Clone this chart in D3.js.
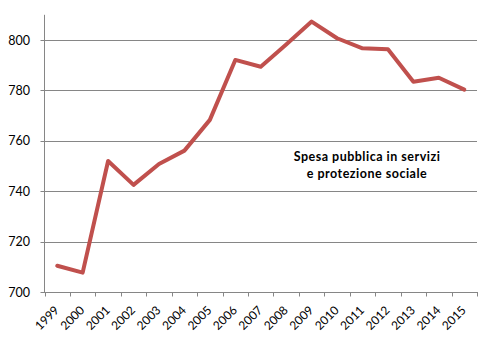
<!DOCTYPE html>
<html>
<head>
<meta charset="utf-8">
<script src="https://cdn.jsdelivr.net/npm/d3@7"></script>
<style>
  html, body { margin: 0; padding: 0; background: #fff; }
  svg { display: block; }
  text { font-family: Lato, "Open Sans", sans-serif; fill: #000; }
</style>
</head>
<body>
<svg id="chart" width="493" height="341"></svg>
<script>
const years = ["1999","2000","2001","2002","2003","2004","2005","2006","2007","2008","2009","2010","2011","2012","2013","2014","2015"];
const values = [710.4, 707.7, 752.0, 742.5, 750.8, 756.1, 768.3, 792.1, 789.4, 798.2, 807.3, 800.7, 796.7, 796.3, 783.4, 785.0, 780.3];
const yTicks = [700, 720, 740, 760, 780, 800];
const annotation = ["Spesa pubblica in servizi", "e protezione sociale"];

const svg = d3.select("#chart");
const plotLeft = 44.5, plotRight = 477, plotTop = 14.8, plotBottom = 292;

const x = d3.scaleBand().domain(years).range([plotLeft, plotRight]).padding(0);
const y = d3.scaleLinear().domain([700, 810]).range([plotBottom, plotTop]);

// gridlines
svg.append("g").selectAll("line").data(yTicks).join("line")
  .attr("x1", plotLeft - 4).attr("x2", plotRight)
  .attr("y1", d => Math.round(y(d)) + 0.5).attr("y2", d => Math.round(y(d)) + 0.5)
  .attr("stroke", "#868686").attr("stroke-width", 1);

// y axis line
svg.append("line")
  .attr("x1", plotLeft).attr("x2", plotLeft)
  .attr("y1", plotTop).attr("y2", plotBottom)
  .attr("stroke", "#868686").attr("stroke-width", 1);

// y labels
svg.append("g").selectAll("text").data(yTicks).join("text")
  .attr("x", 30).attr("y", d => y(d))
  .attr("text-anchor", "end").attr("dy", "0.36em")
  .style("font-size", "12.5px")
  .text(d => d);

// x tick marks at band boundaries
const bounds = years.map(d => x(d)).concat([plotRight]);
svg.append("g").selectAll("line").data(bounds).join("line")
  .attr("x1", d => Math.round(d) + 0.5).attr("x2", d => Math.round(d) + 0.5)
  .attr("y1", plotBottom).attr("y2", plotBottom + 4.5)
  .attr("stroke", "#868686").attr("stroke-width", 1);

// x labels
svg.append("g").selectAll("text").data(years).join("text")
  .attr("transform", d => `translate(${x(d) + x.bandwidth() / 2 + 2.5},${311}) rotate(-45)`)
  .attr("text-anchor", "end")
  .style("font-size", "12px")
  .text(d => d);

// line
const line = d3.line()
  .x((d, i) => x(years[i]) + x.bandwidth() / 2)
  .y(d => y(d));
svg.append("path").datum(values)
  .attr("d", line)
  .attr("fill", "none")
  .attr("stroke", "#C0504D")
  .attr("stroke-width", 4)
  .attr("stroke-linejoin", "round")
  .attr("stroke-linecap", "round");

// annotation
svg.append("g").selectAll("text").data(annotation).join("text")
  .attr("x", 367).attr("y", (d, i) => 161 + i * 17)
  .attr("text-anchor", "middle")
  .style("font-size", "12.5px").style("font-weight", "bold")
  .style("letter-spacing", "0.5px")
  .text(d => d);
</script>
</body>
</html>
